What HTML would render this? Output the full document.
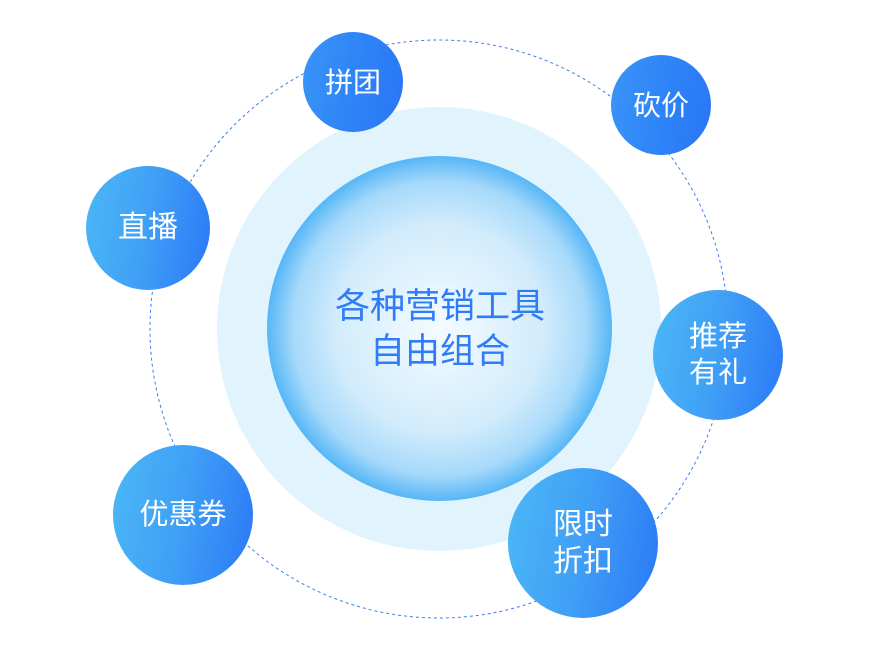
<!DOCTYPE html>
<html><head><meta charset="utf-8"><style>
body{margin:0;width:870px;height:660px;background:#fff;position:relative;overflow:hidden;font-family:"Liberation Sans","Noto Sans CJK SC",sans-serif}
.c{position:absolute;border-radius:50%;display:flex;align-items:center;justify-content:center;text-align:center;color:#fff;background:linear-gradient(100deg,#4cb8f6 0%,#3f9ff6 50%,#2b78f6 100%);line-height:1.25}
.d{background:linear-gradient(100deg,#3a95f7 0%,#2f84f7 50%,#2a76f6 100%)}
</style></head><body>
<svg width="870" height="660" style="position:absolute;left:0;top:0">
<defs><radialGradient id="g" cx="50%" cy="50%" r="50%">
<stop offset="0" stop-color="#f4fbff"/><stop offset="0.6" stop-color="#d2ecfc"/><stop offset="0.85" stop-color="#a6d9fa"/><stop offset="1" stop-color="#55b6f7"/></radialGradient></defs>
<circle cx="439" cy="329" r="289" fill="none" stroke="#3a7ff0" stroke-width="1" stroke-dasharray="3,3"/>
<circle cx="439" cy="329" r="222" fill="#e1f3fd"/>
<circle cx="439.5" cy="328.5" r="172.5" fill="url(#g)"/>
</svg>
<div style="position:absolute;left:240px;top:284px;width:400px;text-align:center;color:#2f7cf6;font-size:35px;line-height:45px">各种营销工具<br>自由组合</div>
<div class="c d" style="left:303px;top:32px;width:100px;height:100px;font-size:28px">拼团</div>
<div class="c d" style="left:611px;top:55px;width:100px;height:100px;font-size:28px">砍价</div>
<div class="c" style="left:86px;top:166px;width:124px;height:124px;font-size:30px">直播</div>
<div class="c" style="left:653px;top:290px;width:130px;height:130px;font-size:29px">推荐<br>有礼</div>
<div class="c" style="left:113px;top:445px;width:140px;height:140px;font-size:29px">优惠券</div>
<div class="c" style="left:508px;top:468px;width:150px;height:150px;font-size:30px">限时<br>折扣</div>
</body></html>
